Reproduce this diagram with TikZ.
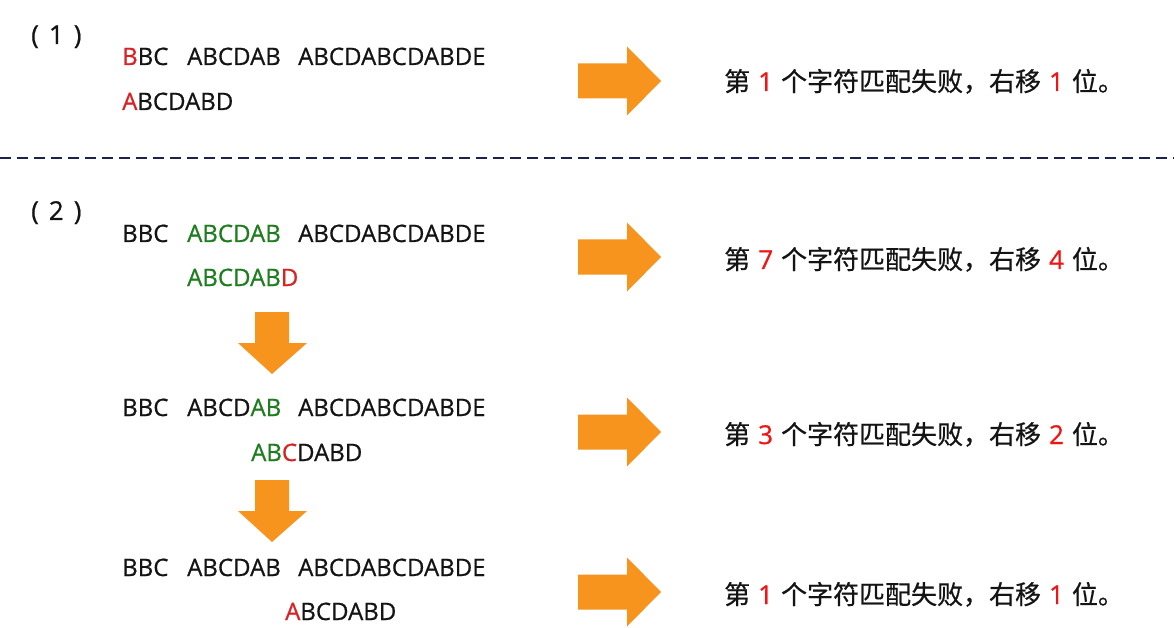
\documentclass[tikz,border=0pt]{standalone}
\usepackage{fontspec}
\setmainfont{Open Sans}[FakeBold=0.7]
\newfontfamily\cjk{Noto Sans CJK SC}[FakeBold=0.6]
\newfontfamily\digitfont{Open Sans}[FakeBold=0.7]
\definecolor{ink}{RGB}{20,20,20}
\definecolor{errred}{RGB}{215,35,35}
\definecolor{numred}{RGB}{240,20,20}
\definecolor{okgreen}{RGB}{30,125,30}
\definecolor{arroworange}{RGB}{247,148,30}
\definecolor{sepnavy}{RGB}{25,35,75}
\newcommand{\RBlockArrow}[1]{\fill[arroworange] (578,#1-17.5) -- (627,#1-17.5) -- (627,#1-34.5) -- (661,#1) -- (627,#1+34.5) -- (627,#1+17.5) -- (578,#1+17.5) -- cycle;}
\newcommand{\DBlockArrow}[1]{\fill[arroworange] (255,#1) -- (289,#1) -- (289,#1+31) -- (307,#1+31) -- (272,#1+62) -- (238,#1+31) -- (255,#1+31) -- cycle;}
\newcommand{\num}[1]{\textcolor{numred}{\digitfont #1}}
\newcommand{\gp}{\hspace{8pt}}
\begin{document}
\begin{tikzpicture}[x=1pt,y=-1pt,
  seqtext/.style={font=\fontsize{24}{28}\selectfont, anchor=base west, inner sep=0pt, text=ink},
  notetext/.style={font=\cjk\fontsize{26}{30}\selectfont, anchor=base west, inner sep=0pt, text=ink},
  steplabel/.style={font=\fontsize{26}{30}\selectfont, anchor=base west, inner sep=0pt, text=ink},
  separator/.style={draw=sepnavy, line width=2.6pt, dash pattern=on 11pt off 6pt}]
\useasboundingbox (0,0) rectangle (1174,628);
\fill[white] (0,0) rectangle (1174,628);
% section labels
\node[steplabel] (s1) at (31,44) {(\hspace{10pt}1\hspace{10pt})};
\node[steplabel] (s2) at (31,220) {(\hspace{10pt}2\hspace{10pt})};
% separator
\coordinate (sepL) at (0,158);
\coordinate (sepR) at (1174,158);
\draw[separator] (sepL) -- (sepR);
% step 1
\node[seqtext] (t1a) at (122,65) {\textcolor{errred}{B}BC};
\node[seqtext] (t1b) at (187,65) {ABCDAB};
\node[seqtext] (t1c) at (298,65) {ABCDABCDABDE};
\node[seqtext] (p1) at (122,110) {\textcolor{errred}{A}BCDABD};
\RBlockArrow{81}
\node[notetext] (n1) at (724,91) {第\gp\num{1}\gp 个字符匹配失败，右移\gp\num{1}\gp 位。};
% step 2
\node[seqtext] (t2a) at (122,242) {BBC};
\node[seqtext] (t2b) at (187,242) {\textcolor{okgreen}{ABCDAB}};
\node[seqtext] (t2c) at (298,242) {ABCDABCDABDE};
\node[seqtext] (p2) at (187,286) {\textcolor{okgreen}{ABCDAB}\textcolor{errred}{D}};
\RBlockArrow{257}
\node[notetext] (n2) at (724,269) {第\gp\num{7}\gp 个字符匹配失败，右移\gp\num{4}\gp 位。};
\DBlockArrow{312}
% step 3
\node[seqtext] (t3a) at (122,416) {BBC};
\node[seqtext] (t3b) at (187,416) {ABCD\textcolor{okgreen}{AB}};
\node[seqtext] (t3c) at (298,416) {ABCDABCDABDE};
\node[seqtext] (p3) at (251,461) {\textcolor{okgreen}{AB}\textcolor{errred}{C}DABD};
\RBlockArrow{432}
\node[notetext] (n3) at (724,444) {第\gp\num{3}\gp 个字符匹配失败，右移\gp\num{2}\gp 位。};
\DBlockArrow{480}
% step 4
\node[seqtext] (t4a) at (122,576) {BBC};
\node[seqtext] (t4b) at (187,576) {ABCDAB};
\node[seqtext] (t4c) at (298,576) {ABCDABCDABDE};
\node[seqtext] (p4) at (285,620) {\textcolor{errred}{A}BCDABD};
\RBlockArrow{592}
\node[notetext] (n4) at (724,604) {第\gp\num{1}\gp 个字符匹配失败，右移\gp\num{1}\gp 位。};
\end{tikzpicture}
\end{document}
